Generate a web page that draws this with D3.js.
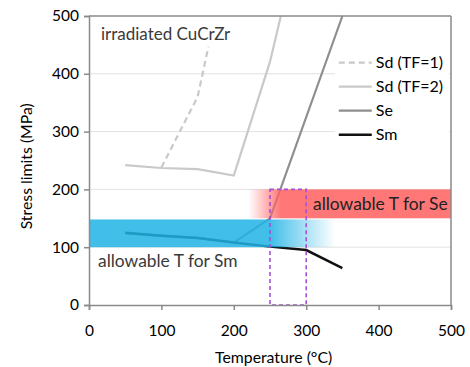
<!DOCTYPE html>
<html>
<head>
<meta charset="utf-8">
<script src="https://cdn.jsdelivr.net/npm/d3@7"></script>
<style>
  body { margin: 0; background: #fff; }
  text { font-family: Lato, "Open Sans", sans-serif; }
</style>
</head>
<body>
<div id="chart"></div>
<script>
// values
const xTicks = [0, 100, 200, 300, 400, 500];
const yTicks = [0, 100, 200, 300, 400, 500];

const sdTF1T = [100, 150, 165];
const sdTF1S = [238, 360, 447];

const sdTF2T = [50, 100, 150, 200, 250, 265];
const sdTF2S = [242, 237, 235, 224, 421, 500];

const seT = [50, 150, 200, 250, 350];
const seS = [124, 116, 108, 150, 500];

const smT = [50, 100, 150, 200, 250, 300, 350];
const smS = [125, 120, 116, 108, 101, 95, 64];

const smBand = [100, 148];   // allowable T for Sm (stress range)
const seBand = [150, 200];   // allowable T for Se
const tWindow = [250, 300];  // dashed box, temperature range

const legendNames = ["Sd (TF=1)", "Sd (TF=2)", "Se", "Sm"];

//---------------------------SPACE SETUP---------------------------------
const W = 470, H = 367;
const margin = { top: 16, right: 19, bottom: 62, left: 89 };
const width = W - margin.left - margin.right;
const height = H - margin.top - margin.bottom;

const x = d3.scaleLinear().domain([0, 500]).range([0, width]);
const y = d3.scaleLinear().domain([0, 500]).range([height, 0]);

const svg = d3.select("#chart").append("svg")
    .attr("width", W).attr("height", H);

const defs = svg.append("defs");

const g = svg.append("g")
    .attr("transform", `translate(${margin.left}, ${margin.top})`);

//---------------------------GRID---------------------------------
g.selectAll(".grid")
    .data(yTicks.filter(d => d > 0 && d < 500))
    .enter().append("line")
    .attr("x1", 0).attr("x2", width)
    .attr("y1", d => y(d)).attr("y2", d => y(d))
    .attr("stroke", "#e2e2e2").attr("stroke-width", 1);

//---------------------------LINES---------------------------------
const zip = (a, b) => a.map((v, i) => [v, b[i]]);
const line = d3.line().x(d => x(d[0])).y(d => y(d[1]));

const series = [
    { name: "Sd (TF=1)", pts: zip(sdTF1T, sdTF1S), color: "#c9c9c9", w: 2.2, dash: "6,4" },
    { name: "Sd (TF=2)", pts: zip(sdTF2T, sdTF2S), color: "#c9c9c9", w: 2.2, dash: null },
    { name: "Se", pts: zip(seT, seS), color: "#8e8e8e", w: 2.2, dash: null },
    { name: "Sm", pts: zip(smT, smS), color: "#111", w: 2.5, dash: null }
];

series.forEach(s => {
    g.append("path")
        .attr("d", line(s.pts))
        .attr("fill", "none")
        .attr("stroke", s.color)
        .attr("stroke-width", s.w)
        .attr("stroke-dasharray", s.dash);
});

//---------------------------BANDS---------------------------------
const blueGrad = defs.append("linearGradient")
    .attr("id", "blueGrad").attr("gradientUnits", "userSpaceOnUse")
    .attr("x1", x(0)).attr("x2", x(340)).attr("y1", 0).attr("y2", 0);
blueGrad.append("stop").attr("offset", 250 / 340).attr("stop-color", "#1fb3e5").attr("stop-opacity", 1);
blueGrad.append("stop").attr("offset", 1).attr("stop-color", "#1fb3e5").attr("stop-opacity", 0);

g.append("rect")
    .attr("x", x(0)).attr("width", x(340) - x(0))
    .attr("y", y(smBand[1])).attr("height", y(smBand[0]) - y(smBand[1]))
    .attr("fill", "url(#blueGrad)").attr("opacity", 0.85);

const redGrad = defs.append("linearGradient")
    .attr("id", "redGrad").attr("gradientUnits", "userSpaceOnUse")
    .attr("x1", x(220)).attr("x2", x(500)).attr("y1", 0).attr("y2", 0);
redGrad.append("stop").attr("offset", 0).attr("stop-color", "#ff6464").attr("stop-opacity", 0);
redGrad.append("stop").attr("offset", 45 / 280).attr("stop-color", "#ff6464").attr("stop-opacity", 1);
redGrad.append("stop").attr("offset", 1).attr("stop-color", "#ff6464").attr("stop-opacity", 1);

g.append("rect")
    .attr("x", x(220)).attr("width", x(500) - x(220))
    .attr("y", y(seBand[1])).attr("height", y(seBand[0]) - y(seBand[1]))
    .attr("fill", "url(#redGrad)").attr("opacity", 0.88);

g.append("rect")
    .attr("x", x(tWindow[0])).attr("width", x(tWindow[1]) - x(tWindow[0]))
    .attr("y", y(200)).attr("height", y(0) - y(200))
    .attr("fill", "none").attr("stroke", "#a650d6")
    .attr("stroke-width", 1.6).attr("stroke-dasharray", "4,3");

//---------------------------FRAME + AXES---------------------------------
g.append("line").attr("x1", 0).attr("x2", width).attr("y1", 0).attr("y2", 0)
    .attr("stroke", "#8a8a8a").attr("stroke-width", 1.5);
g.append("line").attr("x1", width).attr("x2", width).attr("y1", 0).attr("y2", height)
    .attr("stroke", "#8a8a8a").attr("stroke-width", 1.5);

const xAxis = g.append("g")
    .attr("transform", `translate(0, ${height})`)
    .call(d3.axisBottom(x).tickValues(xTicks).tickSize(5).tickPadding(15).tickFormat(d3.format("d")));
const yAxis = g.append("g")
    .call(d3.axisLeft(y).tickValues(yTicks).tickSize(5).tickPadding(5).tickFormat(d3.format("d")));

[xAxis, yAxis].forEach(a => {
    a.select(".domain").attr("stroke", "#8a8a8a").attr("stroke-width", 1.5);
    a.selectAll(".tick line").attr("stroke", "#8a8a8a").attr("stroke-width", 1.5);
    a.selectAll(".tick text").attr("fill", "#000").style("font-size", "15.5px")
        .style("font-family", "Lato, 'Open Sans', sans-serif");
});

svg.append("text")
    .attr("x", margin.left + x(255)).attr("y", 363)
    .attr("text-anchor", "middle")
    .style("font-size", "15.8px").attr("fill", "#000")
    .text("Temperature (°C)");

svg.append("text")
    .attr("transform", `translate(32, ${margin.top + y(240)}) rotate(-90)`)
    .attr("text-anchor", "middle")
    .style("font-size", "15.8px").attr("fill", "#000")
    .text("Stress limits (MPa)");

//---------------------------ANNOTATIONS---------------------------------
g.append("text").attr("x", 12).attr("y", 24)
    .style("font-size", "17px").attr("fill", "#3a3a3a")
    .text("irradiated CuCrZr");

g.append("text").attr("x", 9).attr("y", 251)
    .style("font-size", "17.4px").attr("fill", "#3a3a3a")
    .text("allowable T for Sm");

g.append("text").attr("x", 224).attr("y", 194)
    .style("font-size", "17.4px").attr("fill", "#222")
    .text("allowable T for Se");

//---------------------------LEGEND---------------------------------
const legend = g.append("g").attr("transform", `translate(${x(345)}, ${y(440)})`);
legend.append("rect")
    .attr("x", -4).attr("y", -4).attr("width", width - x(345) + 2).attr("height", 98)
    .attr("fill", "#fff");

const rowY = [12, 36, 60, 84];
series.forEach((s, i) => {
    legend.append("line")
        .attr("x1", 0).attr("x2", 33).attr("y1", rowY[i]).attr("y2", rowY[i])
        .attr("stroke", s.color).attr("stroke-width", s.w)
        .attr("stroke-dasharray", s.dash);
    legend.append("text")
        .attr("x", 37).attr("y", rowY[i]).attr("dy", "0.35em")
        .style("font-size", "16px").attr("fill", "#000")
        .text(legendNames[i]);
});
</script>
</body>
</html>
